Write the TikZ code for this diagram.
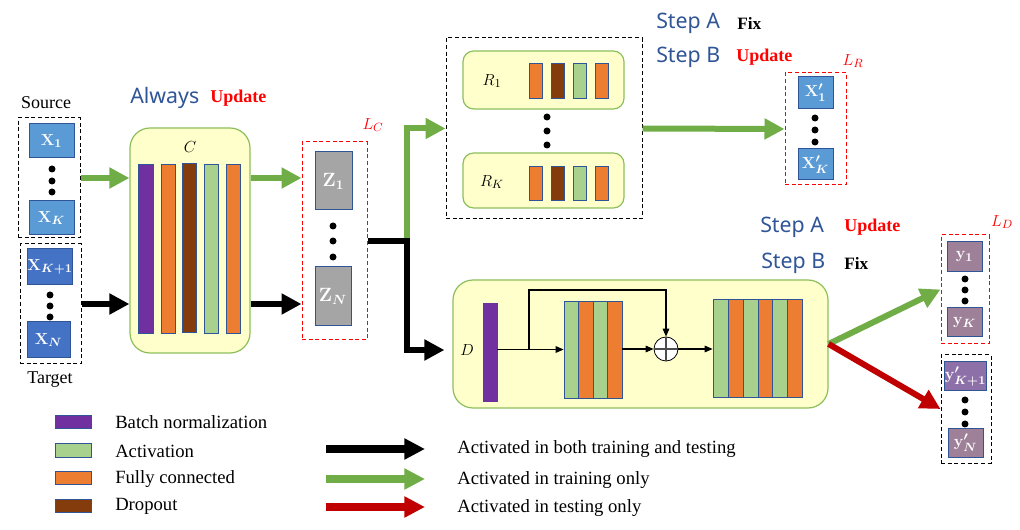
\documentclass[tikz,border=0pt]{standalone}
\usepackage{fontspec}
\usepackage{graphicx}
\setmainfont{Liberation Serif}
\newfontfamily\stepfont{Noto Sans}
\usetikzlibrary{arrows.meta,calc}
\definecolor{lblue}{HTML}{5B9BD5}
\definecolor{dblue}{HTML}{4472C4}
\definecolor{bord}{HTML}{2F5597}
\definecolor{zgray}{HTML}{A5A5A5}
\definecolor{blockfill}{HTML}{FFFFCC}
\definecolor{blockdraw}{HTML}{8CBF5A}
\definecolor{bnpurple}{HTML}{7030A0}
\definecolor{fcorange}{HTML}{ED7D31}
\definecolor{dobrown}{HTML}{843C0C}
\definecolor{actgreen}{HTML}{A9D18E}
\definecolor{agreen}{HTML}{70AD47}
\definecolor{ared}{HTML}{C00000}
\definecolor{tblue}{HTML}{2F5597}
\definecolor{ymauve}{HTML}{9E8099}
\definecolor{ypurple}{HTML}{8E70A8}
\newcommand{\bx}[7]{%
  \pgfmathsetmacro\myBW{(#4-#2)*0.75}%
  \pgfmathsetmacro\myBH{(#5-#3)*0.75}%
  \node[inner sep=0pt, minimum width=\myBW pt, minimum height=\myBH pt, #6] (#1) at ({(#2+#4)/2},{(#3+#5)/2}) {#7};}
\tikzset{
  dbox/.style={draw=black, dash pattern=on 3pt off 2pt, line width=0.75pt},
  rdbox/.style={draw=red, dash pattern=on 3pt off 2pt, line width=0.75pt},
  inbox/.style={draw=bord, line width=0.75pt, text=white, font=\fontsize{13}{15}\selectfont\boldmath},
  zbox/.style={draw=bord, line width=0.75pt, text=white, font=\fontsize{14}{16}\selectfont\boldmath},
  bar/.style={draw=bord, line width=0.6pt},
  block/.style={draw=blockdraw, fill=blockfill, line width=0.9pt},
  dot/.style={circle, fill=black, inner sep=0pt, minimum size=5.25pt},
  lbl/.style={inner sep=0pt, font=\fontsize{13.5}{16}\selectfont},
  leg/.style={inner sep=0pt, anchor=west, font=\fontsize{14}{17}\selectfont},
  mlab/.style={inner sep=0pt, font=\fontsize{13}{15}\selectfont},
  stepf/.style={inner sep=0pt, anchor=west, text=tblue, font=\stepfont\fontsize{16}{19}\selectfont},
  upd/.style={inner sep=0pt, anchor=west, text=red, font=\fontsize{13.5}{16}\selectfont\bfseries},
  fixf/.style={inner sep=0pt, anchor=west, text=black, font=\fontsize{13}{16}\selectfont\bfseries},
  garr/.style={draw=agreen, line width=4.5pt, -{Triangle[length=15pt,width=15pt]}},
  karr/.style={draw=black, line width=4.5pt, -{Triangle[length=15pt,width=15pt]}},
  rarr/.style={draw=ared, line width=4.5pt, -{Triangle[length=15pt,width=15pt]}},
  legarr/.style={draw=#1, line width=6pt, -{Triangle[length=15.5pt,width=15pt]}},
  thinarr/.style={draw=black, line width=0.8pt, -{Triangle[length=6pt,width=5pt]}},
}
\begin{document}
\begin{tikzpicture}[x=0.75pt,y=-0.75pt]
\useasboundingbox (0,0) rectangle (1020,530);

% ---------- inputs ----------
\bx{src}{18}{118}{80}{238}{dbox}{}
\node[lbl] (srct) at (46,103) {Source};
\bx{x1}{29}{124}{74}{158}{inbox, fill=lblue}{$\mathbf{X}_{1}$}
\node[dot] (sd1) at (52,169) {};
\node[dot] (sd2) at (52,181) {};
\node[dot] (sd3) at (52,192) {};
\bx{xk}{29}{201}{74}{235}{inbox, fill=lblue}{$\mathbf{X}_{K}$}

\bx{tgt}{20}{244}{81}{364}{dbox}{}
\bx{xk1}{29}{249}{71}{285}{inbox, fill=dblue}{$\mathbf{X}_{K+1}$}
\node[dot] (td1) at (50,295) {};
\node[dot] (td2) at (50,306) {};
\node[dot] (td3) at (50,317) {};
\bx{xn}{27}{322}{70}{358}{inbox, fill=dblue}{$\mathbf{X}_{N}$}
\node[lbl] (tgtt) at (50,380) {Target};

% ---------- C block ----------
\node[stepf] (alw) at (130,98) {Always};
\node[upd] (alwu) at (210,98) {Update};
\bx{C}{130}{128}{250}{353}{block, rounded corners=15pt}{}
\node[mlab] (Ct) at (190,147) {$C$};
\bx{c1}{138}{164}{153}{333}{bar, fill=bnpurple}{}
\bx{c2}{161}{164}{175}{333}{bar, fill=fcorange}{}
\bx{c3}{182}{163}{196}{332}{bar, fill=dobrown}{}
\bx{c4}{204}{164}{218}{333}{bar, fill=actgreen}{}
\bx{c5}{226}{164}{240}{333}{bar, fill=fcorange}{}

% ---------- Z ----------
\bx{lc}{302}{142}{367}{340}{rdbox}{}
\node[mlab, text=red] (lct) at (373,125) {$L_C$};
\bx{z1}{315}{152}{352}{210}{zbox, fill=zgray}{$\mathbf{Z}_{1}$}
\node[dot] (zd1) at (333,226) {};
\node[dot] (zd2) at (333,241) {};
\node[dot] (zd3) at (333,257) {};
\bx{zn}{315}{267}{351}{326}{zbox, fill=zgray}{$\mathbf{Z}_{N}$}

% ---------- R ----------
\bx{R}{446}{38}{642}{219}{dbox}{}
\bx{r1}{463}{51}{624}{109}{block, rounded corners=8pt}{}
\node[mlab] (r1t) at (492,81) {$R_1$};
\bx{r1a}{529}{63}{542}{98}{bar, fill=fcorange}{}
\bx{r1b}{551}{63}{564}{98}{bar, fill=dobrown}{}
\bx{r1c}{573}{63}{586}{98}{bar, fill=actgreen}{}
\bx{r1d}{595}{63}{608}{98}{bar, fill=fcorange}{}
\node[dot] (rd1) at (547,117) {};
\node[dot] (rd2) at (547,131) {};
\node[dot] (rd3) at (547,145) {};
\bx{rk}{463}{153}{624}{208}{block, rounded corners=8pt}{}
\node[mlab] (rkt) at (492,182) {$R_K$};
\bx{rka}{529}{166}{542}{200}{bar, fill=fcorange}{}
\bx{rkb}{551}{166}{564}{200}{bar, fill=dobrown}{}
\bx{rkc}{573}{166}{586}{200}{bar, fill=actgreen}{}
\bx{rkd}{595}{166}{608}{200}{bar, fill=fcorange}{}

\node[stepf] (sa1) at (656,23) {Step A};
\node[fixf] (sa1v) at (737,23) {Fix};
\node[stepf] (sb1) at (656,57) {Step B};
\node[upd] (sb1v) at (736,57) {Update};

\bx{lr}{785}{73}{846}{185}{rdbox}{}
\node[mlab, text=red] (lrt) at (853,61) {$L_R$};
\bx{xp1}{798}{77}{833}{109}{inbox, fill=lblue}{$\mathbf{X}'_{1}$}
\node[dot] (xd1) at (815,118) {};
\node[dot] (xd2) at (815,130) {};
\node[dot] (xd3) at (815,142) {};
\bx{xpk}{798}{149}{833}{180}{inbox, fill=lblue}{$\mathbf{X}'_{K}$}

% ---------- D block ----------
\bx{D}{453}{280}{828}{408}{block, rounded corners=15pt}{}
\node[mlab] (Dt) at (467,350) {$D$};
\bx{bn}{483}{303}{497}{401}{bar, fill=bnpurple, draw=bnpurple}{}
\bx{g1a}{564}{301}{578}{398}{bar, fill=actgreen}{}
\bx{g1b}{578}{301}{593}{398}{bar, fill=fcorange}{}
\bx{g1c}{593}{301}{607}{398}{bar, fill=actgreen}{}
\bx{g1d}{607}{301}{622}{398}{bar, fill=fcorange}{}
\bx{g1}{564}{301}{622}{398}{draw=bord, line width=0.6pt}{}
\node[circle, draw=black, fill=white, line width=0.6pt, inner sep=0pt, minimum size=18pt] (plus) at (666,349) {};
\draw[gray!60!black, line width=0.9pt] (plus.north) -- (plus.south) (plus.west) -- (plus.east);
\bx{g2a}{713}{299}{728}{397}{bar, fill=actgreen}{}
\bx{g2b}{728}{299}{743}{397}{bar, fill=fcorange}{}
\bx{g2c}{743}{299}{758}{397}{bar, fill=actgreen}{}
\bx{g2d}{758}{299}{772}{397}{bar, fill=fcorange}{}
\bx{g2e}{772}{299}{787}{397}{bar, fill=actgreen}{}
\bx{g2f}{787}{299}{802}{397}{bar, fill=fcorange}{}
\bx{g2}{713}{299}{802}{397}{draw=bord, line width=0.6pt}{}

\coordinate (br) at (529,349.5);
\coordinate (brtop) at (529,290);
\draw[thinarr] (bn.east |- g1.west) -- (g1.west);
\draw[thinarr] (br) -- (brtop) -| (plus.north);
\draw[thinarr] (g1.east |- plus.west) -- (plus.west);
\draw[thinarr] (plus.east) -- (g2.west |- plus.east);

\node[stepf] (sa2) at (760,227) {Step A};
\node[upd] (sa2v) at (844,227) {Update};
\node[stepf] (sb2) at (761,263) {Step B};
\node[fixf] (sb2v) at (844,263) {Fix};

% ---------- outputs ----------
\bx{ld}{941}{235}{989}{344}{rdbox}{}
\node[mlab, text=red] (ldt) at (1002,222) {$L_D$};
\bx{y1}{947}{242}{982}{272}{inbox, fill=ymauve}{$\mathbf{y}_{1}$}
\node[dot] (yd1) at (965,279) {};
\node[dot] (yd2) at (965,290) {};
\node[dot] (yd3) at (965,301) {};
\bx{yk}{947}{308}{982}{337}{inbox, fill=ymauve}{$\mathbf{y}_{K}$}
\bx{tb}{941}{355}{991}{463}{dbox}{}
\bx{yp1}{948}{362}{983}{391}{inbox, fill=ypurple}{$\mathbf{y}'_{K+1}$}
\node[dot] (ypd1) at (965,400) {};
\node[dot] (ypd2) at (965,412) {};
\node[dot] (ypd3) at (965,424) {};
\bx{ypn}{948}{429}{983}{457}{inbox, fill=ymauve}{$\mathbf{y}'_{N}$}

% ---------- main connectors ----------
\draw[garr] (src.east) -- (C.west |- src.east);
\draw[karr] (tgt.east) -- (C.west |- tgt.east);
\draw[garr] (C.east |- src.east) -- (lc.west |- src.east);
\draw[karr] (C.east |- tgt.east) -- (lc.west |- tgt.east);

\coordinate (J) at (407,241);
\coordinate (Jd) at (407,350);
\draw[garr, line join=miter] (J) -- (J |- R.west) -- (R.west);
\draw[karr, line join=miter] (lc.east) -- (J) -- (Jd) -- ($(D.west |- Jd)+(-8,0)$);
\draw[garr] (R.east) -- (lr.west);
\draw[garr] (D.east) -- (ld.west);
\draw[rarr] (D.east) -- (tb.west);

% ---------- legend ----------
\bx{lsq1}{55}{415}{91}{428}{bar, fill=bnpurple}{}
\bx{lsq2}{55}{443}{91}{457}{bar, fill=actgreen}{}
\bx{lsq3}{55}{471}{91}{484}{bar, fill=fcorange}{}
\bx{lsq4}{55}{499}{91}{512}{bar, fill=dobrown}{}
\node[leg] (lt1) at (115,422) {Batch normalization};
\node[leg] (lt2) at (115,451) {Activation};
\node[leg] (lt3) at (115,479) {Fully connected};
\node[leg] (lt4) at (115,506) {Dropout};

\coordinate (la1) at (326,449);
\coordinate (la1e) at (425,449);
\coordinate (la2) at (326,479);
\coordinate (la2e) at (425,479);
\coordinate (la3) at (326,507);
\coordinate (la3e) at (425,507);
\draw[legarr=black] (la1) -- (la1e);
\draw[legarr=agreen] (la2) -- (la2e);
\draw[legarr=ared] (la3) -- (la3e);
\node[leg] (at1) at (457,449) {Activated in both training and testing};
\node[leg] (at2) at (457,480) {Activated in training only};
\node[leg] (at3) at (457,508) {Activated in testing only};
\end{tikzpicture}
\end{document}
